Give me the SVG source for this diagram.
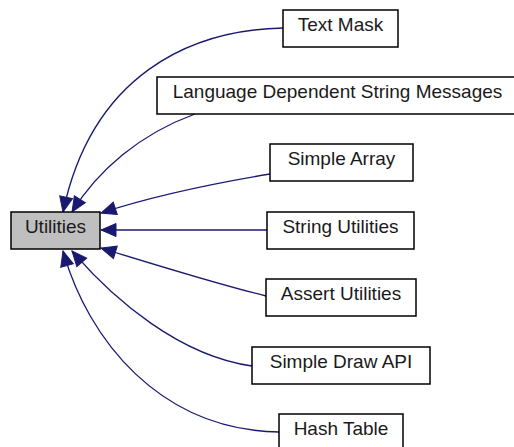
<svg xmlns="http://www.w3.org/2000/svg" width="514" height="447" viewBox="0 0 514 447">
<style>
.box{fill:#ffffff;stroke:#000000;stroke-width:1.5}
.cur{fill:#bfbfbf;stroke:#000000;stroke-width:1.5}
text{font-family:"Liberation Sans",Arial,sans-serif;font-size:19px;fill:#1a1a1a;text-anchor:middle}
.edge{fill:none;stroke:#191970;stroke-width:1.3;marker-end:url(#arr)}
</style>
<defs>
<marker id="arr" markerUnits="userSpaceOnUse" markerWidth="18" markerHeight="16" refX="16" refY="8" orient="auto" viewBox="0 0 18 16">
<polygon points="1,1.5 16,8 1,14.5" fill="#191970" stroke="#191970" stroke-width="1"/>
</marker>
</defs>
<rect width="514" height="447" fill="#ffffff"/>
<g id="edges">
<path class="edge" d="M283,28 C190,30 92,75 63,212"/>
<path class="edge" d="M195,114 C140,134 98,170 72,212"/>
<path class="edge" d="M270,174 C210,184 150,197 101,213"/>
<path class="edge" d="M267,230 L101,230"/>
<path class="edge" d="M266,296 C210,282 150,263 101,248"/>
<path class="edge" d="M252,366 C180,356 114,300 72,251"/>
<path class="edge" d="M279,432 C160,430 88,340 63,251"/>
</g>
<g id="utilities">
<rect class="cur" x="11" y="212" width="89" height="37"/>
<text x="55.5" y="233">Utilities</text>
</g>
<g id="text-mask">
<rect class="box" x="283" y="10" width="115" height="37"/>
<text x="340.5" y="31">Text Mask</text>
</g>
<g id="language-dependent-string-messages">
<rect class="box" x="157" y="77" width="361" height="37"/>
<text x="337.5" y="98">Language Dependent String Messages</text>
</g>
<g id="simple-array">
<rect class="box" x="270" y="144" width="143" height="37"/>
<text x="341.5" y="165">Simple Array</text>
</g>
<g id="string-utilities">
<rect class="box" x="267" y="212" width="147" height="37"/>
<text x="340.5" y="233">String Utilities</text>
</g>
<g id="assert-utilities">
<rect class="box" x="266" y="279" width="150" height="37"/>
<text x="341" y="300">Assert Utilities</text>
</g>
<g id="simple-draw-api">
<rect class="box" x="252" y="347" width="178" height="37"/>
<text x="341" y="368">Simple Draw API</text>
</g>
<g id="hash-table">
<rect class="box" x="279" y="414" width="124" height="37"/>
<text x="341" y="435">Hash Table</text>
</g>
</svg>
